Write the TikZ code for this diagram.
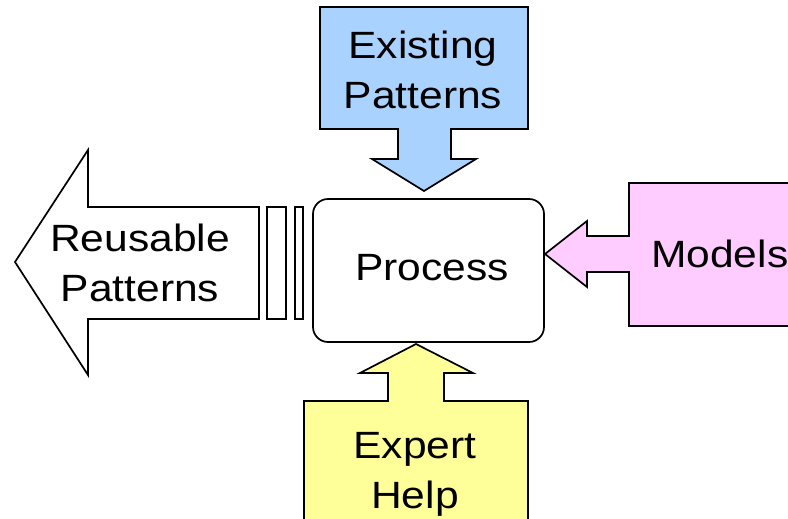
\documentclass[tikz,border=0pt]{standalone}
\usepackage{fontspec}
\setmainfont{Liberation Sans}[FakeStretch=1.12]
\usepackage{xcolor}
\definecolor{ColTop}{RGB}{170,210,255}
\definecolor{ColRight}{RGB}{255,204,255}
\definecolor{ColBottom}{RGB}{255,255,153}
\usepackage{tikz}
\tikzstyle{Shape}=[draw=black,line width=1.7pt,line join=miter]
\tikzstyle{Stripe}=[draw=black,line width=1.7pt,fill=white]
\tikzstyle{Label}=[font=\fontsize{38}{50}\selectfont,align=center,inner sep=0pt]

\begin{document}
\begin{tikzpicture}[x=1pt,y=-1pt]
        \useasboundingbox (0,0) rectangle (788,519);
        % existing patterns
        \draw[Shape,fill=ColTop](320,7)--(528,7)--(528,129)--(451,129)--(451,159)--(476,159)
            --(424,191)--(372,159)--(398,159)--(398,129)--(320,129)--cycle;
        \node[Label](existing)at(423,70){Existing\\Patterns};
        % process
        \draw[Shape,rounded corners=15pt](313,199)rectangle(544,342);
        \node[Label](process)at(432,268){Process};
        % reusable patterns
        \draw[Shape,fill=white](259,207)--(259,319)--(88,319)--(88,375)--(15,262)
            --(88,150)--(88,207)--cycle;
        \draw[Stripe](267,207)rectangle(286,319);
        \draw[Stripe](295,207)rectangle(303,319);
        \node[Label](reusable)at(140,263){Reusable\\Patterns};
        % models
        \draw[Shape,fill=ColRight](795,183)--(629,183)--(629,236)--(587,236)--(587,221)
            --(545,254)--(587,287)--(587,272)--(629,272)--(629,326)--(795,326);
        \node[Label,anchor=west](models)at(651,254){Models};
        % expert help
        \draw[Shape,fill=ColBottom](304,525)--(304,401)--(388,401)--(388,373)--(360,373)
            --(416,344)--(473,373)--(444,373)--(444,401)--(528,401)--(528,525);
        \node[Label](expert)at(415,474){Expert\\Help};
\end{tikzpicture}
\end{document}
